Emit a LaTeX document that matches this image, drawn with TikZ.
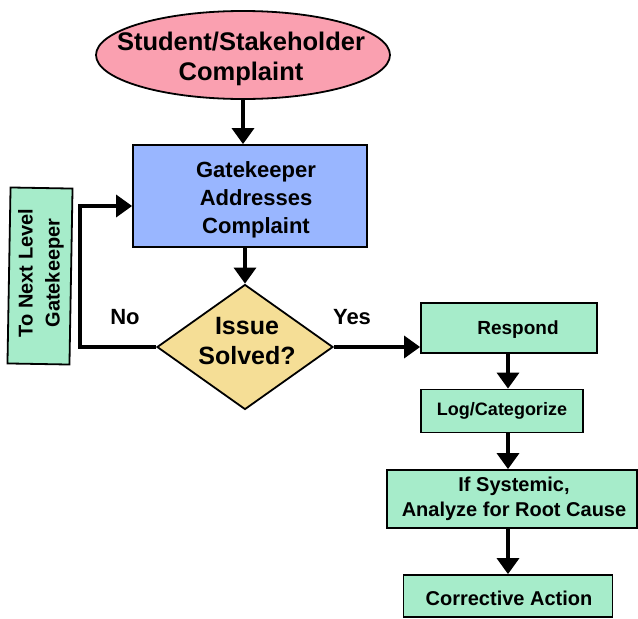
\documentclass[tikz,border=0pt]{standalone}
\usepackage{fontspec}
\setmainfont{Liberation Sans}
\usetikzlibrary{shapes.geometric,arrows.meta}
\definecolor{pinkfill}{RGB}{250,160,176}
\definecolor{bluefill}{RGB}{153,182,255}
\definecolor{goldfill}{RGB}{245,222,150}
\definecolor{mintfill}{RGB}{166,236,202}
\tikzset{
  outline/.style={draw=black, line width=1.8pt, inner sep=0pt},
  blockbox/.style={outline, rectangle},
  mintbox/.style={blockbox, fill=mintfill},
  label text/.style={font=\bfseries, align=center, inner sep=0pt},
  flow/.style={line width=3.5pt, line join=miter, -{Triangle[length=16pt,width=22pt]}},
}
\begin{document}
\begin{tikzpicture}[x=1pt,y=-1pt]
  \useasboundingbox (0,0) rectangle (638,619);

  % start of the process
  \node[outline, ellipse, fill=pinkfill, minimum width=294pt, minimum height=88pt] (start) at (243,55) {};
  \node[label text, font=\bfseries\fontsize{25.5}{30}\selectfont] (starttxt) at (241,59) {Student/Stakeholder\\Complaint};

  % gatekeeper step
  \node[blockbox, fill=bluefill, minimum width=234pt, minimum height=102pt] (gate) at (250,196) {};
  \node[label text, font=\bfseries\fontsize{22}{28}\selectfont] (gatetxt) at (256,200) {Gatekeeper\\Addresses\\Complaint};

  % decision
  \node[outline, diamond, fill=goldfill, minimum width=176pt, minimum height=125pt] (solved) at (245,347) {};
  \node[label text, font=\bfseries\fontsize{25}{30}\selectfont] (solvedtxt) at (247,341) {Issue\\Solved?};

  % escalation box, set slightly askew
  \node[mintbox, rotate=89, minimum width=176pt, minimum height=62pt] (next) at (40,276) {};
  \node[label text, rotate=90, font=\bfseries\fontsize{20}{27}\selectfont] (nexttxt) at (41,273) {To Next Level\\Gatekeeper};

  % resolution chain
  \node[mintbox, minimum width=176pt, minimum height=50pt] (respond) at (509,328) {};
  \node[label text, font=\bfseries\fontsize{19}{22}\selectfont] (respondtxt) at (518,330) {Respond};

  \node[mintbox, minimum width=162pt, minimum height=43pt] (log) at (502,411) {};
  \node[label text, font=\bfseries\fontsize{18}{22}\selectfont] (logtxt) at (log) {Log/Categorize};

  \node[mintbox, minimum width=250pt, minimum height=58pt] (root) at (512,499) {};
  \node[label text, font=\bfseries\fontsize{20}{25}\selectfont] (roottxt) at (514,499) {If Systemic,\\Analyze for Root Cause};

  \node[mintbox, minimum width=209pt, minimum height=42pt] (fix) at (508,596) {};
  \node[label text, font=\bfseries\fontsize{20}{22}\selectfont] (fixtxt) at (509,598) {Corrective Action};

  % branch labels
  \node[label text, font=\bfseries\fontsize{22}{26}\selectfont] (nolbl) at (125,317) {No};
  \node[label text, font=\bfseries\fontsize{22}{26}\selectfont] (yeslbl) at (352,317) {Yes};

  % connectors
  \coordinate (bend) at (80,206);
  \draw[flow] (start.south) -- (start.south |- gate.north);
  \draw[flow] (solved.north |- gate.south) -- (solved.north);
  \draw[flow] (solved.east) -- (solved.east -| respond.west);
  \draw[flow] (respond.south -| fix.north) -- (log.north -| fix.north);
  \draw[flow] (log.south -| fix.north) -- (root.north -| fix.north);
  \draw[flow] (root.south -| fix.north) -- (fix.north);
  \draw[flow] (solved.west) -| (bend) -- (bend -| gate.west);
\end{tikzpicture}
\end{document}
